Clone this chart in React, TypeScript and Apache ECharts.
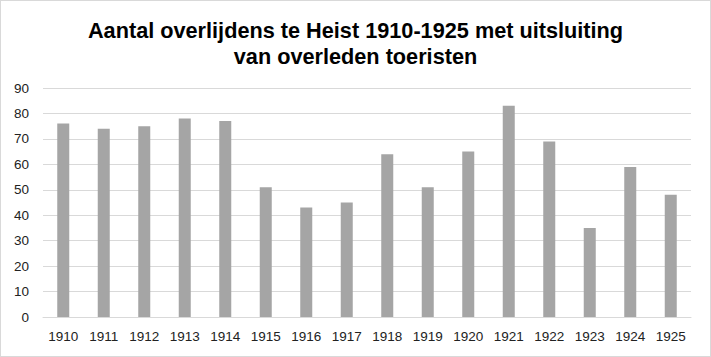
import React, { useEffect, useRef } from "react";
import * as echarts from "echarts";

const years = ["1910","1911","1912","1913","1914","1915","1916","1917","1918","1919","1920","1921","1922","1923","1924","1925"];
const deaths = [76, 74, 75, 78, 77, 51, 43, 45, 64, 51, 65, 83, 69, 35, 59, 48];
const titleText = "Aantal overlijdens te Heist 1910-1925 met uitsluiting\nvan overleden toeristen";

export default function App() {
  const ref = useRef<HTMLDivElement>(null);
  useEffect(() => {
    document.body.style.margin = "0";
    const chart = echarts.init(ref.current!, null, { renderer: "svg" });
    chart.setOption({
      animation: false,
      backgroundColor: "#ffffff",
      title: {
        text: titleText,
        left: "center",
        top: 16,
        padding: 0,
        textStyle: { fontFamily: "Liberation Sans", fontWeight: "bold", fontSize: 21.7, color: "#000", lineHeight: 26 },
      },
      grid: { left: 42, right: 19, top: 87, bottom: 39, containLabel: false },
      xAxis: {
        type: "category",
        data: years,
        axisLine: { lineStyle: { color: "#d9d9d9", width: 1 } },
        axisTick: { show: false },
        axisLabel: { fontFamily: "Liberation Sans", fontSize: 13.5, color: "#222", margin: 12 },
      },
      yAxis: {
        type: "value",
        min: 0,
        max: 90,
        interval: 10,
        splitLine: { lineStyle: { color: "#d9d9d9", width: 1 } },
        axisLine: { show: false },
        axisTick: { show: false },
        axisLabel: { fontFamily: "Liberation Sans", fontSize: 13.5, color: "#222", margin: 14 },
      },
      series: [
        {
          type: "bar",
          data: deaths,
          barWidth: 12,
          itemStyle: { color: "#a5a5a5" },
        },
      ],
    });
    return () => chart.dispose();
  }, []);
  return (
    <div
      ref={ref}
      style={{ width: 711, height: 357, border: "1px solid #d9d9d9", boxSizing: "border-box" }}
    />
  );
}
